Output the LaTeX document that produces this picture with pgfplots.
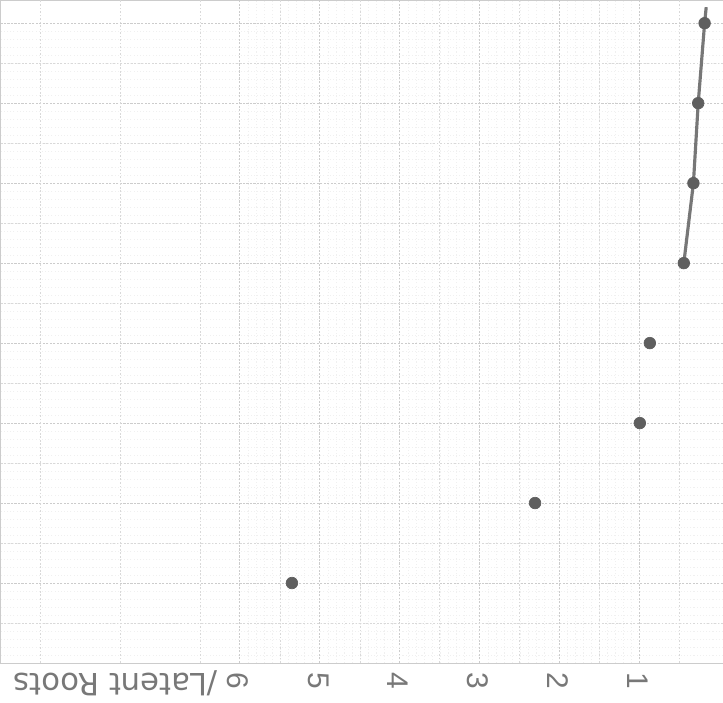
\documentclass[border=0pt]{standalone}
\usepackage{pgfplots}
\pgfplotsset{compat=1.18}
\usepackage{fontspec}
\setmainfont{Liberation Sans}
\newfontfamily\widefont{DejaVu Sans}
\definecolor{pencil}{RGB}{95,95,95}
\definecolor{labelgray}{RGB}{120,120,120}
\begin{document}
\begin{tikzpicture}
\useasboundingbox (0,0) rectangle (14.46cm,-14.06cm);
\begin{axis}[
  at={(0,0)}, anchor=north west,
  scale only axis,
  width=14.46cm, height=13.26cm,
  x dir=reverse,
  xmin=-0.04, xmax=9.0,
  ymin=0, ymax=8.29,
  axis line style={gray!40},
  xtick={1,2,3,4,5,6},
  xticklabels={1,2,3,4,5,6},
  ytick={0,1,...,8},
  yticklabels={},
  minor x tick num=9,
  minor y tick num=9,
  major tick length=0pt, minor tick length=0pt,
  grid=both,
  major grid style={gray!40, dash pattern=on 1.2pt off 0.8pt, line width=0.5pt},
  minor grid style={gray!12, dash pattern=on 0.6pt off 1.2pt, line width=0.4pt},
  extra x ticks={0.5,1.5,2.5,3.5,4.5,5.5,6.5,7.5,8.5},
  extra x tick labels={},
  extra y ticks={0.5,1.5,2.5,3.5,4.5,5.5,6.5,7.5},
  extra y tick labels={},
  extra tick style={grid=major, major grid style={gray!30, dash pattern=on 1pt off 1pt, line width=0.45pt}},
  xticklabel style={rotate=-90, anchor=west, font=\fontsize{17}{20}\selectfont, text=labelgray, yshift=-1pt, xshift=2pt},
  clip=false,
]
\addplot[only marks, mark=*, mark size=3.3pt, color=pencil]
  coordinates {(5.35,1) (2.31,2) (1.00,3) (0.875,4)};
\addplot[color=pencil!85, line width=1.8pt]
  coordinates {(0.45,5) (0.33,6) (0.27,7) (0.19,8) (0.17,8.2)};
\addplot[only marks, mark=*, mark size=3.3pt, color=pencil]
  coordinates {(0.45,5) (0.33,6) (0.27,7) (0.19,8)};
\node[yshift=-11.5pt, rotate=180, anchor=west, text=labelgray, font=\widefont\fontsize{17.5}{20}\selectfont, inner sep=0pt]
  at (axis cs:6.27,0) {/Latent Roots};
\end{axis}
\end{tikzpicture}
\end{document}
